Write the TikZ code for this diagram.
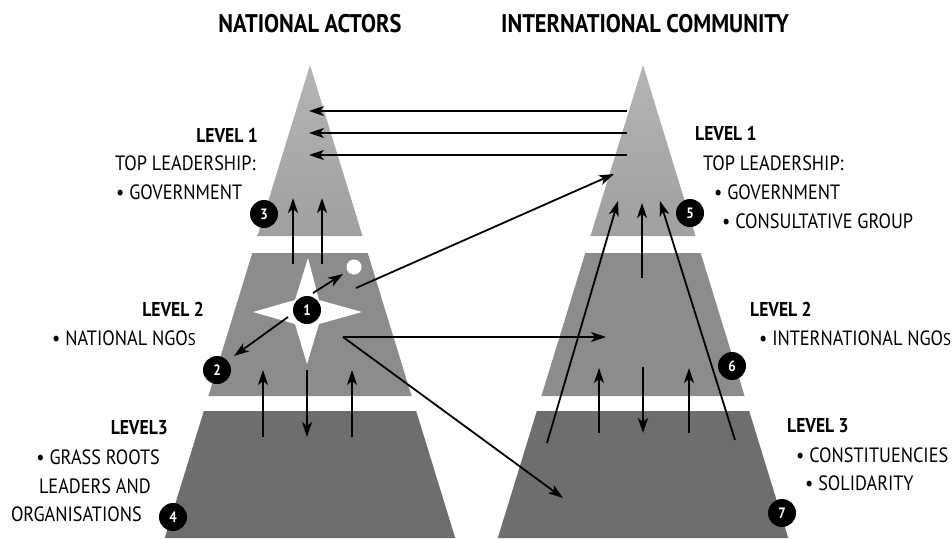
\documentclass[tikz,border=0pt]{standalone}
\usepackage{fontspec}
\setmainfont{PT Sans}[FakeStretch=0.88]
\usetikzlibrary{arrows.meta}
\definecolor{tierhi}{RGB}{180,180,180}
\definecolor{tiertop}{RGB}{160,160,160}
\definecolor{tiermid}{RGB}{140,140,140}
\definecolor{tierlow}{RGB}{110,110,110}
\begin{document}
\begin{tikzpicture}[x=1pt,y=-1pt,
  lbl/.style={font=\fontsize{20.7}{24}\selectfont, inner sep=0pt},
  lvl/.style={font=\bfseries\fontsize{20}{24}\selectfont, inner sep=0pt},
  ttl/.style={font=\bfseries\fontsize{25.5}{28}\selectfont, inner sep=0pt},
  num/.style={circle, fill=black, minimum size=28pt, inner sep=0pt, text=white,
              font=\bfseries\fontsize{15}{15}\selectfont},
  arr/.style={line width=1.8pt, -{Stealth[length=15pt,width=10pt,inset=4pt]}},
  toptier/.style={top color=tierhi, bottom color=tiertop},
  midtier/.style={fill=tiermid},
  lowtier/.style={fill=tierlow}]
\useasboundingbox (0,0) rectangle (952,538);

% --- the two pyramids, each cut into three tiers ---
\foreach \c in {310,643}{
  \path[toptier] (\c,65) -- (\c+52.5,236) -- (\c-52.5,236) -- cycle;
  \path[midtier] (\c-57.7,253) -- (\c+57.7,253) -- (\c+101.6,396) -- (\c-101.6,396) -- cycle;
  \path[lowtier] (\c-106.2,411) -- (\c+106.2,411) -- (\c+145.2,538) -- (\c-145.2,538) -- cycle;
}

% --- four-pointed star and small dot in the national level 2 ---
\fill[white] (308,258) -- (319,300) -- (362,312) -- (319,324) -- (307,364)
  -- (295,324) -- (253,312) -- (295,300) -- cycle;
\fill[white] (354,267) circle (7.5);

% --- titles ---
\node[ttl] (tNat) at (310,24) {NATIONAL ACTORS};
\node[ttl] (tInt) at (645,24) {INTERNATIONAL COMMUNITY};

% --- left labels ---
\node[lvl, anchor=base east] (l1) at (258,142) {LEVEL 1};
\node[lbl, anchor=base west] (l1a) at (115,170) {TOP LEADERSHIP:};
\node[lbl, anchor=base west] (l1b) at (116,199) {\textbullet\ GOVERNMENT};
\node[lvl, anchor=base east] (l2) at (204,316) {LEVEL 2};
\node[lbl, anchor=base west] (l2a) at (52,345) {\textbullet\ NATIONAL NGO\fontsize{17}{17}\selectfont S};
\node[lvl, anchor=base east] (l3) at (168,434) {LEVEL3};
\node[lbl, anchor=base east] (l3a) at (160,464) {\textbullet\ GRASS ROOTS};
\node[lbl, anchor=base east] (l3b) at (151,493) {LEADERS AND};
\node[lbl, anchor=base east] (l3c) at (142,521) {ORGANISATIONS};

% --- right labels ---
\node[lvl, anchor=base west] (r1) at (695,140) {LEVEL 1};
\node[lbl, anchor=base west] (r1a) at (703,170) {TOP LEADERSHIP:};
\node[lbl, anchor=base west] (r1b) at (714,199) {\textbullet\ GOVERNMENT};
\node[lbl, anchor=base west] (r1c) at (722,228) {\textbullet\ CONSULTATIVE GROUP};
\node[lvl, anchor=base west] (r2) at (750,316) {LEVEL 2};
\node[lbl, anchor=base west] (r2a) at (759,345) {\textbullet\ INTERNATIONAL NGO\fontsize{17}{17}\selectfont S};
\node[lvl, anchor=base west] (r3) at (787,432) {LEVEL 3};
\node[lbl, anchor=base west] (r3a) at (796,462) {\textbullet\ CONSTITUENCIES};
\node[lbl, anchor=base west] (r3b) at (805,490) {\textbullet\ SOLIDARITY};

% --- arrow end points ---
\coordinate (h1s) at (627,111); \coordinate (h1e) at (309,111);
\coordinate (h2s) at (627,133); \coordinate (h2e) at (309,133);
\coordinate (h3s) at (627,155); \coordinate (h3e) at (309,155);
\coordinate (dotS) at (356,288); \coordinate (intTop) at (614,174);
\coordinate (stA) at (313,293); \coordinate (stB) at (343,274);
\coordinate (stC) at (288,317); \coordinate (stD) at (234,356);
\coordinate (stE) at (343,337); \coordinate (intMid) at (606,337);
\coordinate (intLow) at (563,498);
\coordinate (u1s) at (293,264); \coordinate (u1e) at (293,198);
\coordinate (u2s) at (322,264); \coordinate (u2e) at (322,198);
\coordinate (v1s) at (263,437); \coordinate (v1e) at (263,370);
\coordinate (v2s) at (307,370); \coordinate (v2e) at (307,437);
\coordinate (v3s) at (352,437); \coordinate (v3e) at (352,370);
\coordinate (w1s) at (547,443); \coordinate (w1e) at (618,201);
\coordinate (w2s) at (642,278); \coordinate (w2e) at (642,203);
\coordinate (w3s) at (735,440); \coordinate (w3e) at (660,201);
\coordinate (x1s) at (599,433); \coordinate (x1e) at (599,368);
\coordinate (x2s) at (643,367); \coordinate (x2e) at (643,433);
\coordinate (x3s) at (689,433); \coordinate (x3e) at (689,368);

% --- connectors ---
\draw[arr] (h1s) -- (h1e);
\draw[arr] (h2s) -- (h2e);
\draw[arr] (h3s) -- (h3e);
\draw[arr] (dotS) -- (intTop);
\draw[arr] (stA) -- (stB);
\draw[arr] (stC) -- (stD);
\draw[arr] (stE) -- (intMid);
\draw[arr] (stE) -- (intLow);
\draw[arr] (u1s) -- (u1e);
\draw[arr] (u2s) -- (u2e);
\draw[arr] (v1s) -- (v1e);
\draw[arr] (v2s) -- (v2e);
\draw[arr] (v3s) -- (v3e);
\draw[arr] (w1s) -- (w1e);
\draw[arr] (w2s) -- (w2e);
\draw[arr] (w3s) -- (w3e);
\draw[arr] (x1s) -- (x1e);
\draw[arr] (x2s) -- (x2e);
\draw[arr] (x3s) -- (x3e);

% --- numbered markers ---
\node[num] (n1) at (307,310) {1};
\node[num] (n2) at (217,370) {2};
\node[num] (n3) at (264,214) {3};
\node[num] (n4) at (173,517) {4};
\node[num] (n5) at (690,213) {5};
\node[num] (n6) at (732,366) {6};
\node[num] (n7) at (782,513) {7};
\end{tikzpicture}
\end{document}
